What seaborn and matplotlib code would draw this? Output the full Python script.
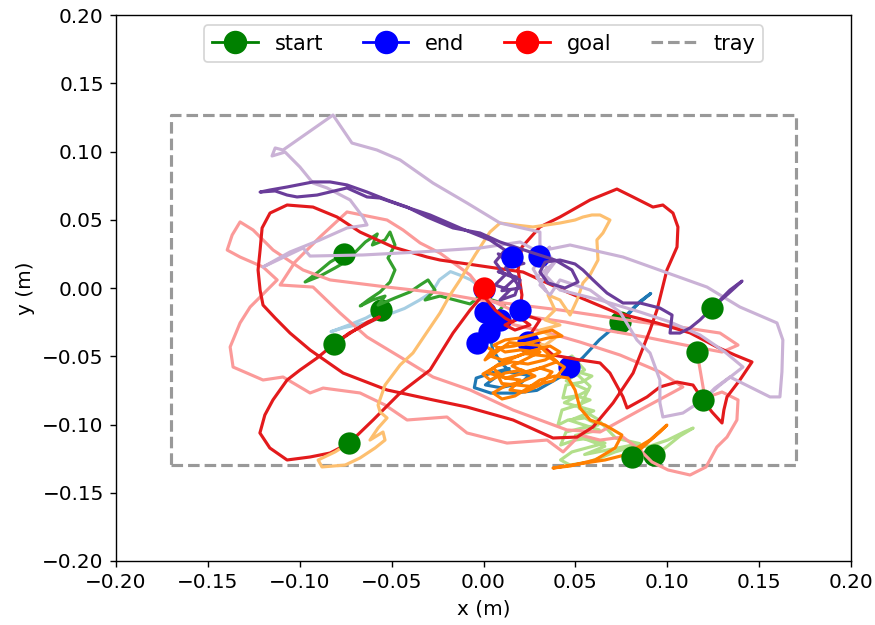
import numpy as np
import matplotlib
matplotlib.use("Agg")
import matplotlib.pyplot as plt
from matplotlib.lines import Line2D
import seaborn as sns

# Object trajectories on the tray, (x, y) samples in millimetres.
# The first sample is the start, the last one the end position.
light_blue_mm = [(-56, -16), (-64, -22), (-73, -27), (-83, -32), (-76, -29), (-62, -25), (-51, -19),
                 (-43, -15), (-35, -9), (-28, -3), (-24, 6), (-18, 12), (-12, 9), (-7, 6), (-3, 2), (0, -1)]

blue_mm = [(74, -25), (82, -14), (91, -4), (85, -10), (77, -22), (63, -38), (54, -51), (42, -65), (29, -75),
           (17, -77), (4, -77), (-5, -73), (-4, -66), (5, -62), (14, -59), (6, -66), (1, -71), (9, -73),
           (20, -70), (25, -64), (15, -62), (9, -54), (5, -45), (3, -32)]

light_green_mm = [(92.8, -122.3), (98.8, -117.2), (106.9, -108.4), (114.1, -102.6), (109.1, -105.5),
                  (100.2, -111.4), (90.6, -115.8), (80.8, -116.5), (71.6, -120.1), (63.4, -124.5),
                  (56.8, -127.5), (47.1, -129.7), (41.9, -126), (48.1, -120.1), (58, -116.5), (66.1, -113.6),
                  (58, -109.9), (49.8, -111.4), (42, -115), (44.9, -105.5), (53.6, -102.6), (62.3, -100.4),
                  (55.2, -95.2), (46, -96.7), (40.5, -100.4), (42.7, -89.4), (51.4, -85.7), (58, -82),
                  (50.3, -79.1), (43.2, -80.6), (44.9, -71.1), (53.6, -68.9), (59, -64.5), (51.4, -61.5),
                  (44.9, -63.7), (42.7, -54.2), (48.1, -49.8), (55, -60), (45, -68), (57, -75), (44, -84),
                  (60, -90), (47, -97), (63, -104), (50, -108), (66, -116), (55, -122), (70, -118), (85, -114),
                  (72, -110), (62, -96), (52, -88), (58, -72), (50, -62), (46.5, -57.9)]

green_mm = [(-75.9, 24.9), (-83.5, 19), (-90, 11.7), (-97.1, 4.4), (-88.9, 8.8), (-80.8, 14.7), (-75.3, 19),
            (-69.7, 26.4), (-64.3, 33.7), (-57.8, 39.6), (-60.5, 31.5), (-53.6, 35.2), (-50.9, 41),
            (-48.2, 31.5), (-52, 22), (-48.2, 13.2), (-50.9, 4.4), (-56.3, -2.9), (-62.8, -8.8),
            (-67.1, -13.2), (-60.5, -8.8), (-53.6, -5.9), (-57.4, -12.5), (-48.2, -7.3), (-40, -2.9),
            (-34.5, 2.2), (-30.2, 5.9), (-26.4, -1.5), (-31.8, -8.8), (-23.7, -5.9), (-15.5, -8.8),
            (-7.3, -11.7), (-1.9, -5.9), (4.6, -8.8), (11.7, -11.7), (7.9, -17.6), (0.8, -17.6)]

pink_mm = [(116.2, -46.9), (120.5, -80.6), (129.8, -76.2), (138.5, -82), (137.9, -96.7), (132.5, -109.2),
           (127, -116.5), (121.1, -131.1), (112.4, -137), (100.4, -133.3), (91.7, -127.5), (85.2, -118.7),
           (75.9, -109.2), (63.4, -111.4), (52.5, -107.7), (43.3, -120.1), (34.6, -111.4), (12.8, -113.6),
           (-9, -106.2), (-19.9, -94.5), (-41.6, -96.7), (-53.6, -85.7), (-67.2, -76.9), (-87.3, -73.3),
           (-94.4, -76.9), (-109.1, -65.2), (-120, -67.4), (-136.3, -57.9), (-137.9, -43.2), (-132.5, -25.6),
           (-127, -13.9), (-112.3, 5.9), (-120, 15.4), (-132.5, 22.7), (-139.5, 27.8), (-136.8, 38.8),
           (-132.5, 48.4), (-125.4, 42.5), (-114.5, 27.8), (-98.2, 13.2), (-83.5, 5.9), (-52.5, 0.7),
           (-23.7, -3.7), (-1.9, -8.8), (19.9, -12.5), (41.6, -16.1), (63.4, -20.5), (85.2, -24.9),
           (106.9, -28.6), (128.7, -33), (138.5, -41.8), (129.8, -46.9), (109.6, -41.8), (87.9, -35.9),
           (66.1, -30.8), (44.5, -24.9), (22.6, -20.5), (3.5, -8.8), (-7.3, 9.5), (-23.7, 25.6), (-34.5, 33),
           (-43.8, 42.5), (-52.5, 49.8), (-74.3, 55.7), (-89, 37.4), (-102.6, 19), (-110.7, 2.2),
           (-92.8, 0.7), (-78.1, -18.3), (-63.4, -35.9), (-45.4, -50.5), (-27.5, -65.2), (-7.3, -74.7),
           (16.1, -89.4), (45.4, -104), (63.4, -105.5), (85.2, -89.4), (108.5, -72.5), (96, -61.5),
           (74.3, -49.1), (52.5, -39.6), (33.5, -32.2), (17.1, -27.1), (9, -23.4)]

red_mm = [(-81.3, -41), (-73.1, -33), (-64.8, -27.1), (-56.6, -21.2), (-63.1, -24.9), (-71.6, -32.2),
          (-81.3, -41), (-90.6, -51.3), (-99.9, -60.1), (-106.9, -67.4), (-114.6, -82), (-119, -93),
          (-121.7, -106.2), (-116.3, -117.2), (-106.9, -126), (-94.4, -123.8), (-83.5, -120.9),
          (-73.1, -113.6), (-60.1, -96.7), (-45.4, -76.9), (-29.1, -60.1), (-16.6, -33), (-7.3, -16.1),
          (-0.3, -5.1), (6.3, -16.1), (11.7, -22), (15.5, -24.9), (19.9, -22), (25.3, -27.1), (17.1, -30.8),
          (11.7, -27.1), (22.6, -19.8), (30.7, -23.4), (25.3, -34.4), (37.8, -49.1), (52.5, -52.7),
          (63.4, -54.9), (68.8, -62.3), (75.9, -79.8), (78.1, -87.9), (89, -79.8), (96, -72.5),
          (105.3, -68.9), (114, -71.1), (119.4, -82), (124.3, -90.8), (129.8, -98.9), (130.8, -89.4),
          (132.5, -79.8), (139.5, -67.4), (146.1, -54.2), (136.8, -49.1), (127, -43.2), (112.4, -32.9),
          (94.4, -25.6), (72.6, -18.3), (45.4, -2.9), (21.5, 11.7), (-4.6, 16.8), (-23.7, 20.5),
          (-30.7, 22.7), (-49.2, 30), (-67.2, 41), (-79.7, 52), (-92.8, 59.3), (-106.9, 60.8),
          (-116.2, 54.9), (-120.5, 44), (-121.6, 27.8), (-122.7, 13.2), (-121.6, -1.5), (-120, -12.5),
          (-113.4, -22), (-105.3, -33), (-94.4, -45.4), (-76.4, -62.3), (-52.5, -74.7), (-27.5, -82),
          (-9, -87.2), (16.1, -96.7), (37.8, -109.9), (50.9, -109.2), (59.6, -101.8), (70.5, -84.2),
          (81.4, -62.3), (90.6, -30.8), (94.4, -16.1), (99.8, 13.2), (105.3, 30), (105.8, 44.7),
          (103.1, 54.9), (97.6, 60.8), (92.2, 59.3), (81.3, 66.7), (72.6, 72.5), (58, 64.5), (41.6, 52),
          (30.7, 44.7), (20.9, 30), (18.8, 13.2), (20.9, -5.1), (19.9, -16.1)]

light_orange_mm = [(-73.1, -113.6), (-80.8, -120.1), (-90, -126), (-87.9, -131.1), (-75.3, -129.7),
                   (-67.2, -124.5), (-59, -117.2), (-53.6, -111.4), (-54.7, -105.5), (-61.8, -111.4),
                   (-57.4, -102.6), (-52.5, -95.2), (-56.3, -90.8), (-57.4, -85.7), (-53.6, -71.1),
                   (-45.4, -56.4), (-38.4, -47.6), (-31.8, -34.4), (-23.7, -18.3), (-18.2, -5.1), (-12.8, 5.9),
                   (-4.6, 24.2), (3.5, 41), (9, 47.6), (17.1, 46.2), (26.9, 44.7), (41.6, 47.6), (49.8, 49.8),
                   (54.1, 52), (59, 53.5), (63.4, 53.5), (68.8, 49.8), (65, 40.3), (61.7, 35.2), (62.3, 20.5),
                   (57.9, 9.5), (54.1, 3.7), (50.9, -8.8), (47.1, -19.8), (41.6, -8.8), (35.1, -5.1),
                   (38.9, -16.1), (33.5, -23.4), (41.6, -27.1), (30.7, -30.8), (38.9, -36.6), (33.5, -41.8),
                   (24.2, -39.6)]

orange_mm = [(80.8, -123.8), (87.9, -115), (96, -105.5), (99.8, -100.4), (90.6, -111.4), (77, -122.3),
             (66.1, -126), (55.2, -128.2), (44.5, -130.4), (37.8, -131.9), (47.1, -130.4), (60.7, -126),
             (71.6, -117.2), (75.3, -107.7), (66.1, -100.4), (58, -96.7), (52.5, -87.9), (49.8, -74.7),
             (46, -65.9), (38.9, -64.5), (30.7, -67.4), (24.2, -73.3), (17.1, -79.1), (10.1, -81.3),
             (5.2, -76.9), (11.7, -71.8), (19.9, -68.9), (28, -64.5), (20.9, -60.1), (11.7, -62.3),
             (3.5, -67.4), (-0.3, -63), (7.3, -57.1), (15.5, -54.2), (24.2, -55.7), (33.5, -52.7),
             (41.6, -46.9), (36.2, -42.5), (28, -45.4), (18.8, -49.8), (10.1, -52.7), (3.5, -49.8),
             (7.9, -44), (16.6, -42.5), (26.4, -39.6), (35.1, -36.6), (42.7, -35.2), (37.3, -30.8),
             (28.6, -33.7), (19.9, -36.6), (11.7, -38.1), (5.7, -41.8), (11.7, -46.9), (19.9, -45.4),
             (30.7, -46.9), (24.2, -51.3), (15.5, -57.1), (22.6, -61.5), (30.7, -58.6), (37.3, -61.5),
             (30.7, -71.1), (22.6, -76.2), (14.4, -74.7), (19.9, -67.4), (11.7, -65.9), (6.3, -60.1),
             (10, -70), (25, -72), (38, -68), (44, -58), (35, -50), (22, -48), (8, -56), (2, -62),
             (12, -66), (28, -60), (40, -54), (30, -42), (14, -40), (6, -48),
             (0.8, -52.7), (4.6, -45.4), (-0.3, -41.8), (-3.5, -40.3)]

light_purple_mm = [(119.4, -82), (128.7, -71.1), (141.2, -57.9), (131.4, -46.9), (117.8, -34.4),
                   (101.5, -24.9), (85.2, -17.6), (63.4, -8.8), (41.6, -1.5), (33.5, 9.5), (38.9, 19),
                   (30.7, 31.5), (30.7, 41), (9, 47.6), (-9, 62.3), (-27.5, 76.9), (-45.4, 93.8),
                   (-58, 101.1), (-71.6, 106.2), (-81.9, 126.7), (-109.1, 101.1), (-113.4, 102.6),
                   (-115.1, 96.7), (-108, 99.6), (-99.9, 88.6), (-92.8, 76.9), (-85.2, 73.3), (-72.6, 64.5),
                   (-65.6, 52), (-63.4, 46.2), (-74.3, 44), (-89, 35.2), (-105.3, 26.4), (-120, 15.4),
                   (-98.2, 29.3), (-94.4, 23.4), (-65.6, 24.2), (-34.5, 26.4), (-1.9, 29.3), (19.9, 33.7),
                   (28, 27.8), (35.1, 13.2), (30.7, 2.2), (36.2, -5.1), (41.6, 5.9), (58, -1.5),
                   (74.3, -17.6), (83.5, -38.1), (90.6, -47.6), (96, -67.4), (96, -84.2), (97.6, -94.5),
                   (108.5, -91.6), (119.4, -82), (125.9, -73.3), (134.1, -65.2), (145, -72.5),
                   (155.9, -79.8), (161.3, -79.8), (162.4, -61.5), (162.9, -38.1), (159.7, -25.6),
                   (139.5, -13.9), (121.6, 0.7), (75.9, 22.7), (47.1, 31.5), (33.5, 27.8), (38, 18),
                   (29, 8), (34, -2), (27, 14), (36, 30), (30.2, 23.4)]

purple_mm = [(124.3, -14.7), (133, -4.4), (140.7, 5.1), (134.1, -1.5), (126, -12.5), (117.8, -23.4),
             (112.4, -29.3), (106.9, -33), (101.5, -33), (102.6, -19.8), (96, -14.7), (85.2, -11),
             (75.9, -11), (67.2, -3.7), (59.6, 5.9), (54.1, 13.2), (49.8, 17.6), (41.6, 20.5), (33.5, 19),
             (30.7, 11.7), (35.1, 3.7), (44.3, 0), (51.4, 4.4), (48.1, 13.2), (38.9, 20.5), (25.3, 26.4),
             (9, 33.7), (-1.9, 40.3), (-16.6, 44), (-30.7, 52), (-41.6, 59.3), (-52.5, 64.5),
             (-63.4, 70.3), (-74.3, 75.5), (-83.5, 77.7), (-92.8, 77.7), (-106.9, 74), (-116.2, 71.8),
             (-121.6, 70.3), (-113.4, 71.1), (-106.9, 68.1), (-101.5, 66.7), (-90.6, 68.1), (-74.3, 73.3),
             (-63.4, 66.7), (-56.3, 65.9), (-45.4, 60.8), (-29.1, 53.5), (-12.8, 44), (3.5, 35.2),
             (11.7, 27.8), (6.3, 19), (11.7, 9.5), (6.3, 2.2), (14.4, -1.5), (9, -8.8), (17.1, -5.1),
             (19.9, 5.9), (8, 12), (18, 8), (10, -2), (20, 0), (12, 15), (22, 18), (8, 25),
             (14.4, 16.8), (15.5, 22.7)]

trajectories = [light_blue_mm, blue_mm, light_green_mm, green_mm, pink_mm,
                red_mm, light_orange_mm, orange_mm, light_purple_mm, purple_mm]

goal_m = (0.0, 0.0)
tray_x = [-0.17, 0.17]
tray_y = [-0.13, 0.127]

palette = sns.color_palette("Paired", 10)

fig, ax = plt.subplots(figsize=(7, 5), dpi=125)
fig.subplots_adjust(left=0.1326, right=0.9726, bottom=0.1024, top=0.976)

# tray outline
rect_x = [tray_x[0], tray_x[1], tray_x[1], tray_x[0], tray_x[0]]
rect_y = [tray_y[0], tray_y[0], tray_y[1], tray_y[1], tray_y[0]]
sns.lineplot(x=rect_x, y=rect_y, sort=False, estimator=None, color="0.6",
             linestyle="--", linewidth=1.8, ax=ax, zorder=1)

marker_area = 165
for i, (traj, col) in enumerate(zip(trajectories, palette)):
    xy = np.asarray(traj, dtype=float) / 1000.0
    z = 2 + 2 * i
    sns.lineplot(x=xy[:, 0], y=xy[:, 1], sort=False, estimator=None, color=col,
                 linewidth=1.8, ax=ax, zorder=z)
    sns.scatterplot(x=[xy[0, 0]], y=[xy[0, 1]], color="green", s=marker_area,
                    linewidth=0, ax=ax, zorder=z + 1)
    sns.scatterplot(x=[xy[-1, 0]], y=[xy[-1, 1]], color="blue", s=marker_area,
                    linewidth=0, ax=ax, zorder=z + 1)

sns.scatterplot(x=[goal_m[0]], y=[goal_m[1]], color="red", s=marker_area,
                linewidth=0, ax=ax, zorder=40)

ax.set_xlim(-0.2, 0.2)
ax.set_ylim(-0.2, 0.2)
ax.set_xticks(np.arange(-0.20, 0.201, 0.05))
ax.set_yticks(np.arange(-0.20, 0.201, 0.05))
ax.tick_params(labelsize=11.5)
ax.set_xlabel("x (m)", fontsize=11.5)
ax.set_ylabel("y (m)", fontsize=11.5)

handles = [
    Line2D([], [], color="green", marker="o", markersize=12.5, linewidth=1.6, label="start"),
    Line2D([], [], color="blue", marker="o", markersize=12.5, linewidth=1.6, label="end"),
    Line2D([], [], color="red", marker="o", markersize=12.5, linewidth=1.6, label="goal"),
    Line2D([], [], color="0.6", linestyle="--", linewidth=1.8, label="tray"),
]
leg = ax.legend(handles=handles, loc="upper center", ncol=4, handlelength=2.2,
                columnspacing=1.9, fontsize=12)
leg.set_zorder(50)

fig.savefig("out.png", dpi=125)
